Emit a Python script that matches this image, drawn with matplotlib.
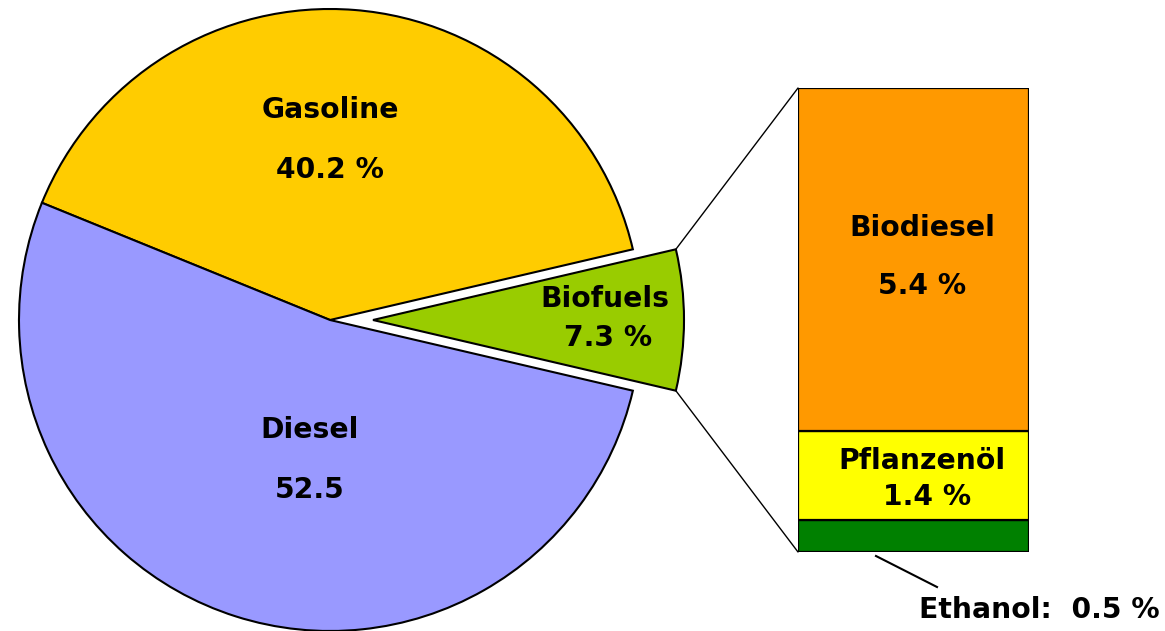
import matplotlib
matplotlib.use("Agg")
import matplotlib.pyplot as plt
from matplotlib.patches import ConnectionPatch
import numpy as np

# Data
pie_labels = ["Biofuels", "Gasoline", "Diesel"]
pie_values = [7.3, 40.2, 52.5]
pie_texts = ["7.3 %", "40.2 %", "52.5"]
pie_colors = ["#99CC00", "#FFCC00", "#9999FF"]

bar_labels = ["Ethanol", "Pflanzenöl", "Biodiesel"]
bar_values = [0.5, 1.4, 5.4]
bar_texts = ["0.5 %", "1.4 %", "5.4 %"]
bar_colors = ["#008000", "#FFFF00", "#FF9900"]

W, H = 1165, 631
fig = plt.figure(figsize=(W / 100, H / 100), dpi=100)
ax = fig.add_axes([0, 0, 1, 1])

R = 311
cx, cy = 330, H - 320
explode_px = 43
start = -pie_values[0] * 3.6 / 2
wedges, _ = ax.pie(pie_values, colors=pie_colors, startangle=start, counterclock=True,
                   radius=R, center=(cx, cy), explode=[explode_px, 0, 0], frame=True,
                   wedgeprops=dict(edgecolor="black", linewidth=1.5))
ax.set_xlim(0, W)
ax.set_ylim(0, H)
ax.set_aspect("auto")
ax.axis("off")
ax.set_zorder(3)

def py(y):
    return H - y

fs = 20.3
tk = dict(fontsize=fs, fontweight="bold", ha="center", va="center", family="DejaVu Sans")
ax.text(330, py(110), "Gasoline", **tk)
ax.text(330, py(170), pie_texts[1], **tk)
ax.text(310, py(430), "Diesel", **tk)
ax.text(310, py(490), pie_texts[2], **tk)
ax.text(605, py(299), "Biofuels", **tk)
ax.text(608, py(338), pie_texts[0], **tk)

# Bar of biofuels
bx0, bx1, by_top, by_bot = 798, 1029, 88, 552
bax = fig.add_axes([bx0 / W, (H - by_bot) / H, (bx1 - bx0) / W, (by_bot - by_top) / H])
bax.set_zorder(1)
bottoms = np.concatenate([[0], np.cumsum(bar_values)[:-1]])
bax.bar([0] * len(bar_values), bar_values, bottom=bottoms, width=1.0, color=bar_colors,
        edgecolor="black", linewidth=1.6)
bax.set_xlim(-0.5, 0.5)
bax.set_ylim(0, sum(bar_values))
bax.axis("off")

ax.text(922, py(228), "Biodiesel", **tk)
ax.text(922, py(286), bar_texts[2], **tk)
ax.text(922, py(461), "Pflanzenöl", **tk)
ax.text(927, py(497), bar_texts[1], **tk)
ax.text(1160, py(610), "Ethanol:  " + bar_texts[0], fontsize=fs, fontweight="bold",
        ha="right", va="center", family="DejaVu Sans")

# connecting lines from biofuel wedge to bar
w = wedges[0]
wc = w.center
t1, t2 = np.deg2rad(w.theta1), np.deg2rad(w.theta2)
p_top = (wc[0] + w.r * np.cos(t2), wc[1] + w.r * np.sin(t2))
p_bot = (wc[0] + w.r * np.cos(t1), wc[1] + w.r * np.sin(t1))
for pA, pB in [(p_top, (-0.5, sum(bar_values))), (p_bot, (-0.5, 0))]:
    con = ConnectionPatch(xyA=pA, coordsA=ax.transData, xyB=pB, coordsB=bax.transData,
                          color="black", linewidth=1.0)
    fig.add_artist(con)

# Ethanol pointer
ax.plot([876, 937], [py(556), py(587)], color="black", linewidth=1.5)

fig.savefig("out.png", dpi=100)
